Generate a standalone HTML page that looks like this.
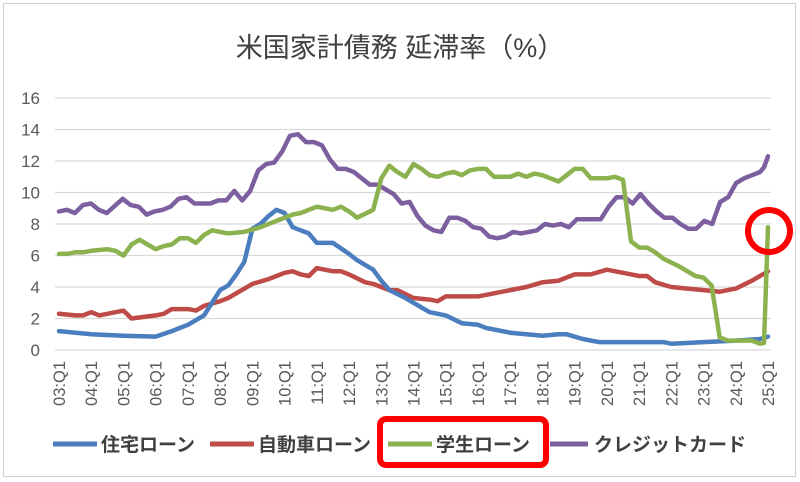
<!DOCTYPE html>
<html><head><meta charset="utf-8"><style>
body{margin:0;background:#fff}
svg{display:block;font-family:"Liberation Sans","Noto Sans CJK JP",sans-serif}
</style></head><body>
<svg id="s" width="800" height="482" viewBox="0 0 800 482">
<rect x="3.5" y="3.5" width="792" height="473" fill="#fff" stroke="#d0d0d0"/>
<text x="400" y="57" text-anchor="middle" font-size="27" fill="#404040">米国家計債務 延滞率（%）</text>
<g id="grid"></g>
<g id="lines" fill="none" stroke-width="4.5" stroke-linejoin="round" stroke-linecap="round"></g>
<g font-size="19" fill="#404040" font-weight="bold">
<line x1="53" y1="444" x2="97" y2="444" stroke="#4a7ebf" stroke-width="5"/>
<text x="101" y="451">住宅ローン</text>
<line x1="210" y1="444" x2="254" y2="444" stroke="#be4b48" stroke-width="5"/>
<text x="258" y="451">自動車ローン</text>
<line x1="388" y1="444" x2="432" y2="444" stroke="#8bb24f" stroke-width="5"/>
<text x="436" y="451">学生ローン</text>
<line x1="550" y1="444" x2="588" y2="444" stroke="#7d5fa0" stroke-width="5"/>
<text x="594" y="451">クレジットカード</text>
</g>
<rect x="380" y="419" width="166" height="46" rx="6" fill="none" stroke="#f00" stroke-width="6"/>
<circle cx="769" cy="231" r="21" fill="none" stroke="#f00" stroke-width="6"/>
</svg>
<script>
const NS="http://www.w3.org/2000/svg";
const X=q=>59+q*(709/88), Y=v=>350-v*15.75;
const g=document.getElementById('grid');
for(let v=0;v<=16;v+=2){
 let l=document.createElementNS(NS,'line');l.setAttribute('x1',55);l.setAttribute('x2',771);
 l.setAttribute('y1',Y(v));l.setAttribute('y2',Y(v));l.setAttribute('stroke','#d9d9d9');l.setAttribute('stroke-width','1.3');g.appendChild(l);
 let t=document.createElementNS(NS,'text');t.setAttribute('x',40);t.setAttribute('y',Y(v)+6);t.setAttribute('text-anchor','end');
 t.setAttribute('font-size','17');t.setAttribute('fill','#595959');t.textContent=v;g.appendChild(t);
}
for(let y=3;y<=25;y++){
 let q=(y-3)*4;let t=document.createElementNS(NS,'text');
 let x=X(q)+6,yy=361;
 t.setAttribute('transform',`translate(${x},${yy}) rotate(-90)`);t.setAttribute('text-anchor','end');
 t.setAttribute('font-size','16.5');t.setAttribute('fill','#595959');t.textContent=(y<10?'0':'')+y+':Q1';g.appendChild(t);
}
const data={
'#be4b48':[[0,2.3],[2,2.2],[3,2.2],[4,2.4],[5,2.2],[8,2.5],[9,2.0],[12,2.2],[13,2.3],[14,2.6],[16,2.6],[17,2.5],[18,2.8],[20,3.1],[21,3.3],[22,3.6],[24,4.2],[26,4.5],[28,4.9],[29,5.0],[30,4.8],[31,4.7],[32,5.2],[34,5.0],[35,5.0],[36,4.8],[38,4.3],[39,4.2],[41,3.8],[42,3.8],[44,3.3],[46,3.2],[47,3.1],[48,3.4],[52,3.4],[54,3.6],[58,4.0],[60,4.3],[62,4.4],[64,4.8],[66,4.8],[68,5.1],[70,4.9],[72,4.7],[73,4.7],[74,4.3],[76,4.0],[78,3.9],[80,3.8],[82,3.7],[84,3.9],[86,4.4],[88,5.0]],
'#4a7ebf':[[0,1.2],[4,1.0],[8,0.9],[12,0.85],[14,1.2],[16,1.6],[18,2.2],[20,3.8],[21,4.1],[22,4.8],[23,5.6],[24,7.7],[25,8.0],[26,8.5],[27,8.9],[28,8.7],[29,7.8],[30,7.6],[31,7.4],[32,6.8],[33,6.8],[34,6.8],[36,6.1],[37,5.7],[39,5.1],[40,4.4],[41,3.8],[43,3.3],[44,3.0],[46,2.4],[48,2.2],[50,1.7],[52,1.6],[53,1.4],[56,1.1],[58,1.0],[60,0.9],[62,1.0],[63,1.0],[65,0.7],[67,0.5],[75,0.5],[76,0.4],[80,0.5],[84,0.6],[87,0.7],[88,0.85]],
'#7d5fa0':[[0,8.8],[1,8.9],[2,8.7],[3,9.2],[4,9.3],[5,8.9],[6,8.7],[8,9.6],[9,9.2],[10,9.1],[11,8.6],[12,8.8],[13,8.9],[14,9.1],[15,9.6],[16,9.7],[17,9.3],[19,9.3],[20,9.5],[21,9.5],[22,10.1],[23,9.5],[24,10.1],[25,11.4],[26,11.8],[27,11.9],[28,12.6],[29,13.6],[30,13.7],[31,13.2],[32,13.2],[33,13.0],[34,12.1],[35,11.5],[36,11.5],[37,11.3],[38,10.9],[39,10.5],[40,10.5],[41,10.2],[42,9.9],[43,9.3],[44,9.4],[45,8.5],[46,7.9],[47,7.6],[48,7.5],[49,8.4],[50,8.4],[51,8.2],[52,7.8],[53,7.7],[54,7.2],[55,7.1],[56,7.2],[57,7.5],[58,7.4],[59,7.5],[60,7.6],[61,8.0],[62,7.9],[63,8.0],[64,7.8],[65,8.3],[66,8.3],[67,8.3],[68,8.3],[69,9.1],[70,9.7],[71,9.7],[72,9.3],[73,9.9],[74,9.3],[75,8.8],[76,8.4],[77,8.4],[78,8.0],[79,7.7],[80,7.7],[81,8.2],[82,8.0],[83,9.4],[84,9.7],[85,10.6],[86,10.9],[87,11.1],[88,11.3],[88.5,11.6],[89,12.3]].map(p=>[p[0]*88/89,p[1]]),
'#8bb24f':[[0,6.1],[1,6.1],[2,6.2],[3,6.2],[4,6.3],[6,6.4],[7,6.3],[8,6.0],[9,6.7],[10,7.0],[11,6.7],[12,6.4],[13,6.6],[14,6.7],[15,7.1],[16,7.1],[17,6.8],[18,7.3],[19,7.6],[20,7.5],[21,7.4],[23,7.5],[25,7.8],[27,8.2],[29,8.6],[30,8.7],[32,9.1],[34,8.9],[35,9.1],[36,8.8],[37,8.4],[39,8.9],[40,10.9],[41,11.7],[42,11.3],[43,11.0],[44,11.8],[45,11.5],[46,11.1],[47,11.0],[48,11.2],[49,11.3],[50,11.1],[51,11.4],[52,11.5],[53,11.5],[54,11.0],[56,11.0],[57,11.2],[58,11.0],[59,11.2],[60,11.1],[61,10.9],[62,10.7],[63,11.1],[64,11.5],[65,11.5],[66,10.9],[68,10.9],[69,11.0],[70,10.8],[71,6.9],[72,6.5],[73,6.5],[74,6.2],[75,5.8],[77,5.3],[78,5.0],[79,4.7],[80,4.6],[81,4.1],[82,0.8],[83,0.6],[86,0.6],[87,0.4],[87.5,0.45],[88,7.8]]
};
const lg=document.getElementById('lines');
for(const c of ['#be4b48','#4a7ebf','#7d5fa0','#8bb24f']){
 let p=document.createElementNS(NS,'polyline');p.setAttribute('stroke',c);
 p.setAttribute('points',data[c].map(d=>X(d[0]).toFixed(1)+','+Y(d[1]).toFixed(1)).join(' '));lg.appendChild(p);
}
</script>
</body></html>
